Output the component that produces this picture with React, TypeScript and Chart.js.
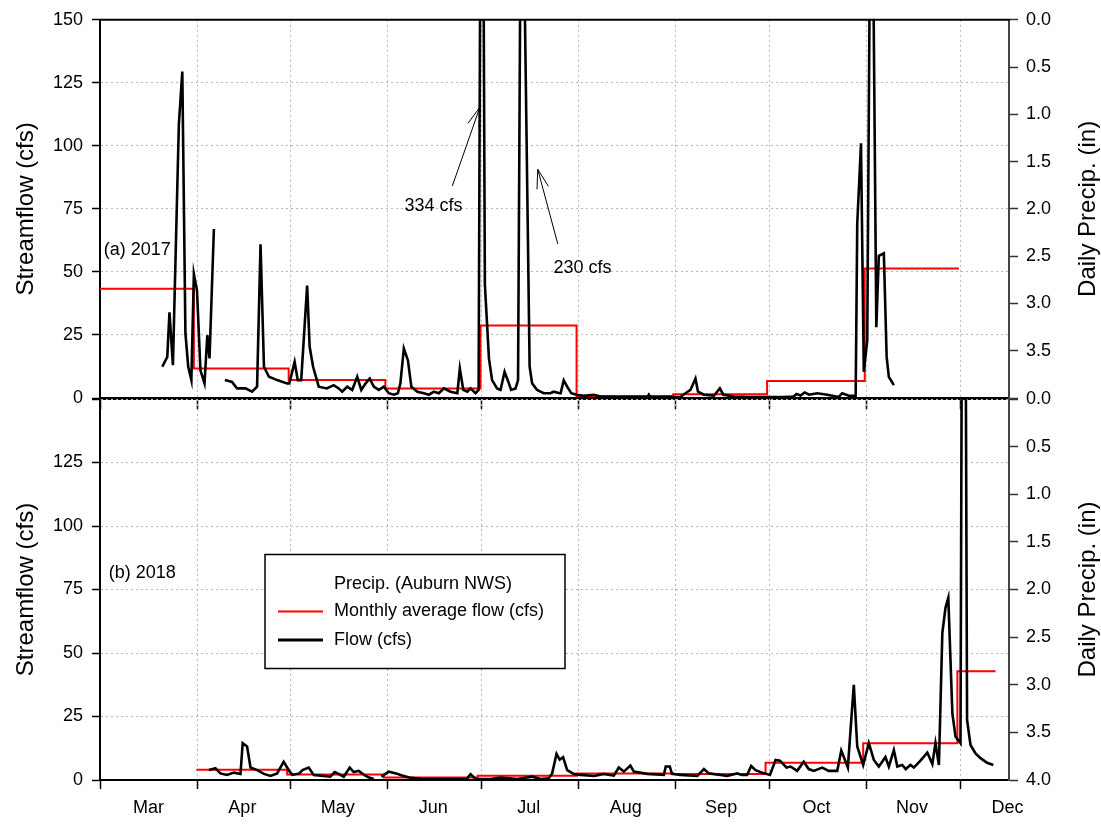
import React, { useEffect, useRef } from 'react';
import { Chart, registerables } from 'chart.js';

Chart.register(...registerables);

const FONT = '"Liberation Sans", Arial, Helvetica, sans-serif';

// ---- axis data (x = days since March 1) ----
const monthNames = ['Mar', 'Apr', 'May', 'Jun', 'Jul', 'Aug', 'Sep', 'Oct', 'Nov', 'Dec'];
const monthStartDays = [0, 31, 61, 92, 122, 153, 184, 214, 245, 275];
const monthMidDays = [15.5, 45.5, 76, 106.5, 137, 168, 198.5, 229, 259.5, 290];
const xMaxDay = 290.5;

const flowMin = 0;
const flowMax = 150;
const flowStep = 25;
const precipMin = 0;
const precipMax = 4;
const precipStep = 0.5;

// ---- (a) 2017 ----
const flow2017Days = [
  19.9, 21.5, 22.2, 23.3, 25.2, 26.3, 27.3, 28.2, 29.2, 30.0, 31.0, 32.1, 33.4, 34.3, 35.0, 36.4,
  38.0,
  39.9, 42.2, 43.8, 46.5, 48.6, 50.2, 51.3, 52.4, 54.0, 56.6, 59.8, 60.5, 62.2, 63.2, 64.3, 66.2,
  67.0, 68.1, 69.9, 72.5, 74.7, 76.3, 77.4, 79.0, 80.6, 82.2, 83.5, 84.9, 86.2, 87.5, 89.1, 90.7,
  92.3, 93.9, 95.2, 96.0, 97.1, 98.4, 99.5, 101.4, 103.5, 105.1, 106.7, 108.3, 109.9, 112.0, 114.2,
  115.0, 116.1, 117.4, 118.4, 120.0, 121.0, 122.0, 123.0, 124.3, 125.3, 126.9, 128.0, 129.3, 130.3,
  131.4, 132.8, 133.6, 134.6, 135.6, 137.3, 138.1, 139.7, 141.8, 143.9, 145.0, 146.6, 147.2, 148.2,
  149.3, 150.6, 152.3, 154.6, 157.8, 160.0, 165.3, 170.6, 175.0, 175.4, 175.9, 181.3, 185.5, 187.1,
  188.7, 190.3, 191.1, 193.0, 196.2, 198.1, 199.2, 202.6, 207.9, 213.2, 218.5, 221.7, 222.6, 223.9,
  225.2, 226.6, 229.2, 232.4, 236.1, 237.2, 239.3, 241.5, 242.0, 243.2, 244.1, 245.2, 246.5, 248.1,
  248.9, 250.5, 251.4, 252.1, 253.7,
];
const flow2017Values = [
  12.4, 16.3, 34, 13, 108.5, 129.5, 25.6, 12.4, 7.1, 49.2, 42.6, 11, 5.8, 24.9, 15.7, 67,
  null,
  7.1, 6.4, 3.8, 3.8, 2.5, 4.5, 61, 12.4, 8.4, 7.1, 5.8, 5.8, 14.3, 7.1, 7.1, 44.6,
  20.3, 12.4, 4.5, 3.8, 5.1, 3.8, 2.5, 4.5, 3.2, 8.4, 3.2, 5.8, 7.7, 4.5, 3.2, 4.5,
  1.9, 1.3, 1.9, 5.8, 19.6, 15, 4.5, 2.5, 1.9, 1.3, 2.5, 1.9, 3.8, 2.5, 1.9,
  11.7, 3.2, 2.5, 3.8, 1.9, 3.2, 334, 45, 15.7, 7.1, 3.8, 3.2, 10.4, 7.1,
  3.2, 3.8, 7.1, 230, 170, 12.4, 5.8, 3.2, 1.9, 1.9, 2.5, 2.0, 1.9, 7.0,
  4.5, 1.9, 1.3, 0.9, 1.3, 0.6, 0.4, 0.4, 0.5, 1.3, 0.4, 0.4, 0.4, 1.9,
  3.2, 7.7, 2.5, 1.3, 0.9, 3.8, 1.3, 0.6, 0.4, 0.4, 0.4, 0.6, 1.6, 1.0,
  2.2, 1.3, 1.9, 1.3, 0.4, 1.9, 0.9, 0.9, 69, 101, 10.4, 22.9, 260, 28.1,
  56.4, 57.4, 16.3, 8.4, 5.1,
];
const avg2017Days = [0, 30.0, 60.3, 91.2, 121.6, 152.3, 183.2, 213.2, 244.4, 274.5];
const avg2017Values = [43.3, 11.7, 7.1, 3.8, 28.8, 0.8, 1.5, 6.7, 51.4, 51.4];

// ---- (b) 2018 ----
const flow2018Days = [
  34.8, 36.9, 38.5, 40.6, 42.8, 44.9, 45.6, 47.0, 48.1, 50.2, 52.4, 54.5, 56.6, 58.7, 60.7, 61.5,
  63.7, 64.7, 66.7, 68.3, 71.5, 73.6, 75.0, 76.2, 77.9, 79.8, 81.1, 82.7, 84.9, 86.0, 87.5,
  88.5,
  89.9, 92.3, 94.6, 96.0, 98.8, 102.4, 108.8, 114.2, 117.2, 118.4, 120.0, 124.8, 128.0, 133.4, 138.1,
  140.8, 143.4, 144.5, 145.9, 146.9, 148.0, 149.3, 151.4, 153.6, 157.9, 161.0, 164.2, 165.8, 167.4,
  169.5, 170.6, 174.9, 180.2, 180.8, 182.1, 182.8, 185.5, 190.9, 193.0, 194.6, 198.3, 200.4, 203.6,
  205.2, 206.8, 208.1, 209.5, 211.6, 214.1, 215.9, 217.3, 219.4, 220.7, 222.8, 224.9, 226.5, 228.1,
  230.8, 232.9, 235.6, 236.9, 238.3, 239.0, 240.9, 242.0, 243.9, 245.7, 247.3, 248.9, 251.0, 252.1,
  253.7, 254.8, 256.4, 257.5, 259.0, 260.1, 262.2, 264.4, 266.0, 267.0, 268.1, 269.2, 270.2, 271.1,
  272.4, 273.4, 275.0, 276.0, 277.1, 278.2, 279.8, 281.4, 283.5, 285.5,
];
const flow2018Values = [
  3.9, 4.6, 2.6, 2.0, 2.9, 2.4, 14.5, 13.2, 4.9, 3.9, 2.4, 1.6, 2.6, 7.2, 3.2, 2.0,
  2.6, 3.9, 4.9, 2.0, 1.6, 1.3, 3.1, 2.4, 1.3, 4.9, 3.1, 3.6, 1.6, 1.0, 0.4,
  null,
  1.3, 3.3, 2.6, 2.0, 1.0, 0.5, 0.4, 0.4, 0.4, 2.3, 0.5, 0.4, 1.0, 0.4, 1.3,
  0.4, 0.7, 2.6, 10.3, 8.0, 9.0, 3.9, 2.4, 2.0, 1.6, 2.4, 1.7, 4.9, 3.3,
  5.7, 3.3, 2.4, 2.0, 5.3, 5.3, 2.4, 2.0, 1.6, 4.3, 2.6, 2.0, 1.6, 2.6,
  2.0, 2.0, 5.5, 3.9, 2.9, 2.0, 7.9, 7.6, 4.9, 5.3, 3.6, 7.2, 4.3, 3.6,
  4.9, 3.6, 3.6, 11.6, 7.2, 4.9, 37.5, 13.2, 5.9, 14.5, 7.9, 5.3, 9.0, 5.3,
  11.8, 5.3, 5.9, 4.3, 5.9, 4.9, 7.6, 10.8, 6.3, 14.5, 5.9, 57.9, 67.8, 71.7,
  26.3, 17.1, 14.5, 400, 23.7, 13.8, 10.5, 8.6, 6.8, 5.9,
];
const avg2018Days = [30.8, 59.8, 90.7, 120.7, 152.4, 183.2, 212.7, 243.9, 274.0, 286.2];
const avg2018Values = [4.0, 2.2, 1.0, 1.7, 2.6, 2.4, 6.8, 14.5, 42.8, 42.8];

// ---- text annotations (data coordinates) ----
const annot2017Texts = ['334 cfs', '230 cfs'];
const annot2017TextDays = [106.6, 154.2];
const annot2017TextFlows = [76.2, 51.5];
const annot2017TailDays = [112.6, 146.3];
const annot2017TailFlows = [84.1, 61.1];
const annot2017TipDays = [121.4, 139.9];
const annot2017TipFlows = [115.3, 90.7];

const legendLabels = ['Precip. (Auburn NWS)', 'Monthly average flow (cfs)', 'Flow (cfs)'];

type Panel = {
  isTop: boolean;
  flowDays: number[];
  flowValues: (number | null)[];
  avgDays: number[];
  avgValues: number[];
  label: string;
  labelDay: number;
  labelFlow: number;
  annots: { text: string; tx: number; ty: number; ax: number; ay: number; bx: number; by: number }[];
  legend: boolean;
};

const decorPlugin = {
  id: 'panelDecor',
  beforeDatasetsDraw(chart: any, _args: any, o: any) {
    const { ctx, chartArea } = chart;
    if (o.topBorder) {
      ctx.save();
      ctx.strokeStyle = '#000';
      ctx.lineWidth = 2;
      ctx.beginPath();
      ctx.moveTo(chartArea.left - 1, chartArea.top);
      ctx.lineTo(chartArea.right + 1, chartArea.top);
      ctx.stroke();
      ctx.restore();
    }
  },
  afterDraw(chart: any, _args: any, o: any) {
    const { ctx, chartArea } = chart;
    const xs = chart.scales.x;
    const ys = chart.scales.y;
    const cy = (chartArea.top + chartArea.bottom) / 2;
    ctx.save();
    ctx.fillStyle = '#000';
    // axis titles
    ctx.font = `24px ${FONT}`;
    ctx.textAlign = 'center';
    ctx.textBaseline = 'alphabetic';
    ctx.save();
    ctx.translate(chartArea.left - 67, cy);
    ctx.rotate(-Math.PI / 2);
    ctx.fillText('Streamflow (cfs)', 0, 0);
    ctx.restore();
    ctx.save();
    ctx.translate(chartArea.right + 86, cy);
    ctx.rotate(-Math.PI / 2);
    ctx.fillText('Daily Precip. (in)', 0, 0);
    ctx.restore();

    // panel label
    ctx.font = `18px ${FONT}`;
    ctx.textAlign = 'left';
    ctx.textBaseline = 'middle';
    ctx.fillText(o.label, xs.getPixelForValue(o.labelDay), ys.getPixelForValue(o.labelFlow));

    // annotations
    (o.annots || []).forEach((a: any) => {
      ctx.textAlign = 'center';
      ctx.fillText(a.text, xs.getPixelForValue(a.tx), ys.getPixelForValue(a.ty));
      const x1 = xs.getPixelForValue(a.ax);
      const y1 = ys.getPixelForValue(a.ay);
      const x2 = xs.getPixelForValue(a.bx);
      const y2 = ys.getPixelForValue(a.by);
      const ang = Math.atan2(y1 - y2, x1 - x2);
      const hl = 20;
      const ha = 0.3;
      ctx.strokeStyle = '#000';
      ctx.lineWidth = 1;
      ctx.beginPath();
      ctx.moveTo(x1, y1);
      ctx.lineTo(x2, y2);
      ctx.moveTo(x2 + hl * Math.cos(ang + ha), y2 + hl * Math.sin(ang + ha));
      ctx.lineTo(x2, y2);
      ctx.lineTo(x2 + hl * Math.cos(ang - ha), y2 + hl * Math.sin(ang - ha));
      ctx.stroke();
    });

    // legend
    if (o.legend) {
      const bx = chartArea.left + 165;
      const by = chartArea.top + 155.5;
      const bw = 300;
      const bh = 114;
      ctx.fillStyle = '#fff';
      ctx.fillRect(bx, by, bw, bh);
      ctx.strokeStyle = '#000';
      ctx.lineWidth = 1.5;
      ctx.strokeRect(bx, by, bw, bh);
      const rows = [29.5, 57, 85.5];
      ctx.fillStyle = '#000';
      ctx.font = `18px ${FONT}`;
      ctx.textAlign = 'left';
      ctx.textBaseline = 'middle';
      legendLabels.forEach((t, i) => {
        ctx.fillText(t, bx + 69, by + rows[i]);
      });
      ctx.lineWidth = 2;
      ctx.strokeStyle = '#ff0000';
      ctx.beginPath();
      ctx.moveTo(bx + 13, by + rows[1]);
      ctx.lineTo(bx + 58, by + rows[1]);
      ctx.stroke();
      ctx.lineWidth = 3;
      ctx.strokeStyle = '#000';
      ctx.beginPath();
      ctx.moveTo(bx + 13, by + rows[2]);
      ctx.lineTo(bx + 58, by + rows[2]);
      ctx.stroke();
    }
    ctx.restore();
  },
};

function buildConfig(p: Panel): any {
  const isStart = (v: number) => monthStartDays.includes(v);
  return {
    type: 'line',
    data: {
      datasets: [
        {
          label: 'Flow (cfs)',
          data: p.flowDays.map((d, i) => ({ x: d, y: p.flowValues[i] })),
          borderColor: '#000',
          borderWidth: 2.6,
          pointRadius: 0,
          tension: 0,
          spanGaps: false,
          order: 0,
          yAxisID: 'y',
        },
        {
          label: 'Monthly average flow (cfs)',
          data: p.avgDays.map((d, i) => ({ x: d, y: p.avgValues[i] })),
          borderColor: '#ff0000',
          borderWidth: 2,
          pointRadius: 0,
          stepped: true,
          order: 1,
          yAxisID: 'y',
        },
      ],
    },
    options: {
      responsive: false,
      animation: false,
      devicePixelRatio: 1,
      events: [],
      layout: {
        padding: { top: p.isTop ? 18 : 399, bottom: p.isTop ? 417 : 0, left: 0, right: 0 },
      },
      plugins: {
        legend: { display: false },
        tooltip: { enabled: false },
        panelDecor: {
          topBorder: p.isTop,
          label: p.label,
          labelDay: p.labelDay,
          labelFlow: p.labelFlow,
          annots: p.annots,
          legend: p.legend,
        },
      },
      scales: {
        x: {
          type: 'linear',
          position: 'bottom',
          min: 0,
          max: xMaxDay,
          afterBuildTicks: (s: any) => {
            s.ticks = [...monthStartDays, ...monthMidDays]
              .sort((a, b) => a - b)
              .map((v) => ({ value: v }));
          },
          afterFit: (s: any) => {
            s.height = p.isTop ? 12 : 47;
          },
          grid: {
            z: -1,
            color: (c: any) => (c.tick && isStart(c.tick.value) ? '#b8b8b8' : 'rgba(0,0,0,0)'),
            tickColor: (c: any) => (c.tick && isStart(c.tick.value) ? '#000' : 'rgba(0,0,0,0)'),
            lineWidth: 1,
            tickLength: p.isTop ? 11 : 9,
            tickWidth: 1.5,
            tickBorderDash: [],
          },
          border: { display: true, color: '#000', width: p.isTop ? 3 : 2, dash: [2, 3] },
          ticks: {
            display: !p.isTop,
            autoSkip: false,
            maxRotation: 0,
            padding: 8,
            color: '#000',
            font: { family: FONT, size: 18 },
            callback: (v: any) => {
              const i = monthMidDays.indexOf(Number(v));
              return i >= 0 ? monthNames[i] : '';
            },
          },
        },
        y: {
          type: 'linear',
          position: 'left',
          min: flowMin,
          max: flowMax,
          afterFit: (s: any) => {
            s.width = 100;
          },
          grid: {
            z: -1,
            color: '#b8b8b8',
            tickColor: '#000',
            lineWidth: 1,
            tickLength: 8,
            tickWidth: 1.5,
            tickBorderDash: [],
          },
          border: { display: true, color: '#000', width: 2, dash: [2, 3] },
          ticks: {
            stepSize: flowStep,
            padding: 9,
            color: '#000',
            font: { family: FONT, size: 18 },
            callback: (v: any) => (!p.isTop && Number(v) === flowMax ? '' : String(v)),
          },
        },
        y2: {
          type: 'linear',
          position: 'right',
          reverse: true,
          min: precipMin,
          max: precipMax,
          afterFit: (s: any) => {
            s.width = 92;
          },
          grid: {
            drawOnChartArea: false,
            tickColor: '#333',
            tickLength: 9,
            tickWidth: 1.5,
            tickBorderDash: [],
          },
          border: { display: true, color: '#444', width: 2 },
          ticks: {
            stepSize: precipStep,
            padding: 8,
            color: '#000',
            font: { family: FONT, size: 18 },
            callback: (v: any) => (p.isTop && Number(v) === precipMax ? '' : Number(v).toFixed(1)),
          },
        },
      },
    },
    plugins: [decorPlugin],
  };
}

const panels: Panel[] = [
  {
    isTop: true,
    flowDays: flow2017Days,
    flowValues: flow2017Values,
    avgDays: avg2017Days,
    avgValues: avg2017Values,
    label: '(a) 2017',
    labelDay: 1.2,
    labelFlow: 58.8,
    annots: annot2017Texts.map((t, i) => ({
      text: t,
      tx: annot2017TextDays[i],
      ty: annot2017TextFlows[i],
      ax: annot2017TailDays[i],
      ay: annot2017TailFlows[i],
      bx: annot2017TipDays[i],
      by: annot2017TipFlows[i],
    })),
    legend: false,
  },
  {
    isTop: false,
    flowDays: flow2018Days,
    flowValues: flow2018Values,
    avgDays: avg2018Days,
    avgValues: avg2018Values,
    label: '(b) 2018',
    labelDay: 2.8,
    labelFlow: 81.6,
    annots: [],
    legend: true,
  },
];

function PanelCanvas({ panel }: { panel: Panel }) {
  const ref = useRef<HTMLCanvasElement | null>(null);
  useEffect(() => {
    if (!ref.current) return;
    const chart = new Chart(ref.current, buildConfig(panel));
    return () => chart.destroy();
  }, [panel]);
  return (
    <canvas
      ref={ref}
      width={1101}
      height={827}
      style={{ position: 'absolute', left: 0, top: 0, width: 1101, height: 827 }}
    />
  );
}

export default function App() {
  return (
    <div
      style={{
        position: 'absolute',
        left: 0,
        top: 0,
        width: 1101,
        height: 827,
        background: '#fff',
        fontFamily: FONT,
      }}
    >
      {panels.map((p, i) => (
        <PanelCanvas key={i} panel={p} />
      ))}
    </div>
  );
}
